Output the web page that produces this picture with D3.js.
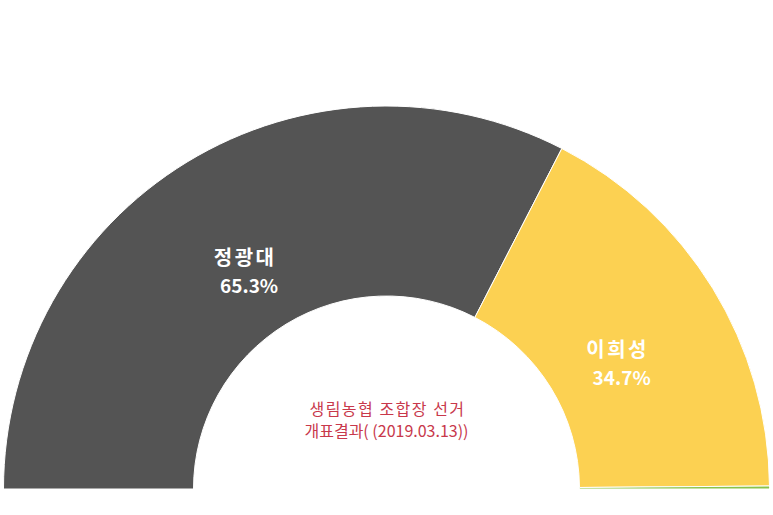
<!DOCTYPE html>
<html>
<head>
<meta charset="utf-8">
<script src="https://cdn.jsdelivr.net/npm/d3@7"></script>
<style>
  html, body { margin: 0; padding: 0; background: #fff; }
  svg { display: block; font-family: "Noto Sans CJK KR", "Noto Sans", sans-serif; }
</style>
</head>
<body>
<div id="chart"></div>
<script>
// candidates and their share of the vote (%)
var candidates = ["정광대", "이희성", "기타"];
var shares = [65.3, 34.7, 0.25];
var sliceColors = ["#545454", "#fcd152", "#8bc34a"];
var showLabel = [true, true, false];
var titleLines = ["생림농협 조합장 선거", "개표결과( (2019.03.13))"];

var width = 773, height = 515;
var cx = 386.5, cy = 489;
var outerR = 383, innerR = 193;

var svg = d3.select("#chart").append("svg")
    .attr("width", width)
    .attr("height", height);

var g = svg.append("g")
    .attr("transform", "translate(" + cx + "," + cy + ")");

var rows = candidates.map(function(c, i){
    return {name: c, value: shares[i], color: sliceColors[i], label: showLabel[i]};
});

var pie = d3.pie()
    .sort(null)
    .value(function(d){ return d.value })
    .startAngle(-Math.PI / 2)
    .endAngle(Math.PI / 2);

var arc = d3.arc()
    .innerRadius(innerR)
    .outerRadius(outerR);

var arcs = pie(rows);

g.selectAll("path.slice")
    .data(arcs)
    .enter().append("path")
    .attr("class", "slice")
    .attr("d", arc)
    .attr("fill", function(d){ return d.data.color })
    .attr("stroke", "#ffffff")
    .attr("stroke-width", 1);

// labels sit a bit inside the middle of the ring
var labelArc = d3.arc().innerRadius(262).outerRadius(262);
var labelNudge = [[-4, 6], [9, 11], [0, 0]];

var labels = g.selectAll("text.label")
    .data(arcs.filter(function(d){ return d.data.label }))
    .enter().append("text")
    .attr("class", "label")
    .attr("text-anchor", "middle")
    .attr("fill", "#ffffff")
    .attr("font-size", 19)
    .attr("font-weight", "bold")
    .attr("transform", function(d){
        var p = labelArc.centroid(d);
        var n = labelNudge[d.index];
        return "translate(" + (p[0] + n[0]) + "," + (p[1] + n[1]) + ")";
    });

labels.append("tspan")
    .attr("x", -1)
    .attr("y", -6)
    .attr("font-size", 20)
    .attr("letter-spacing", 2.5)
    .text(function(d){ return d.data.name });

labels.append("tspan")
    .attr("x", 3)
    .attr("y", 22)
    .text(function(d){ return d3.format(".1f")(d.data.value) + "%" });

// title inside the hole
g.append("text")
    .attr("text-anchor", "middle")
    .attr("fill", "#c8384b")
    .attr("font-size", 16)
    .selectAll("tspan")
    .data(titleLines)
    .enter().append("tspan")
    .attr("x", function(d, i){ return i == 0 ? 1 : 0 })
    .attr("y", function(d, i){ return -74 + i * 22 })
    .attr("letter-spacing", function(d, i){ return i == 0 ? 1.5 : 0 })
    .text(function(d){ return d });
</script>
</body>
</html>
